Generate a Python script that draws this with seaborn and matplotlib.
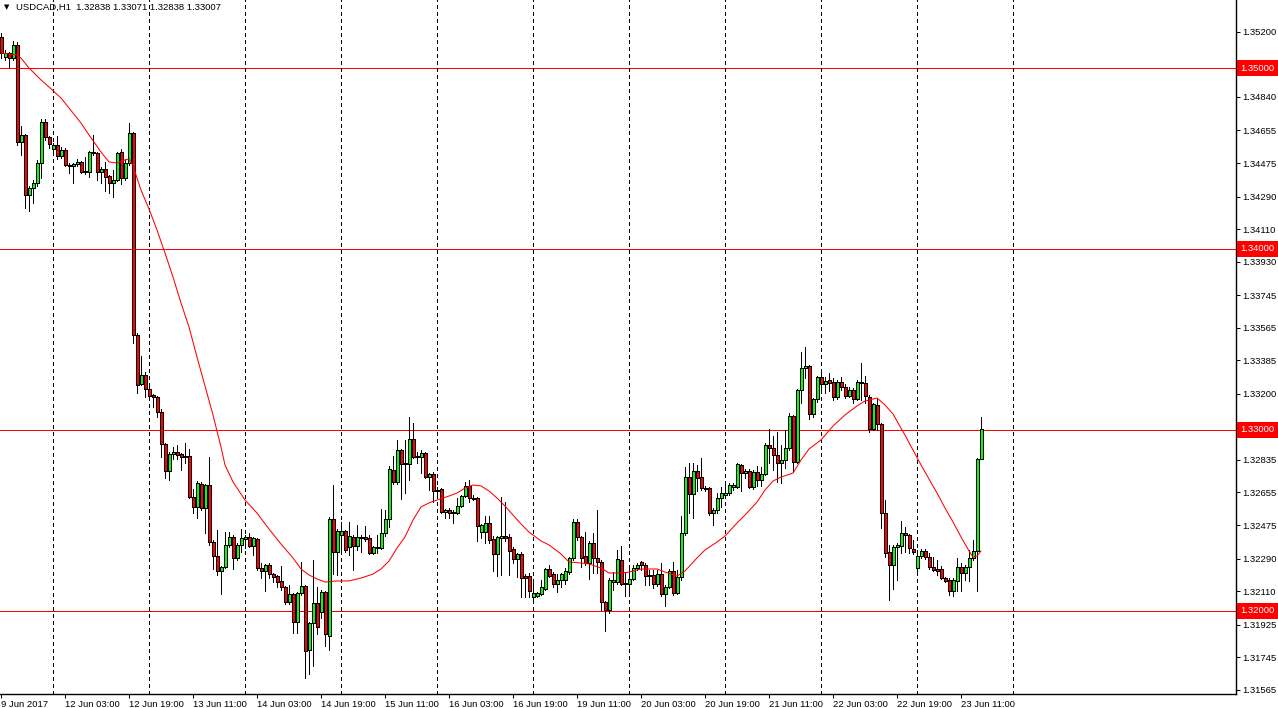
import numpy as np
import pandas as pd
import matplotlib
matplotlib.use("Agg")
import matplotlib.pyplot as plt
import matplotlib.transforms as mtransforms
import seaborn as sns

symbol = "USDCAD,H1"

# trading days shown on the H1 chart (weekend skipped)
trading_days = ["2017-06-09", "2017-06-12", "2017-06-13", "2017-06-14", "2017-06-15",
                "2017-06-16", "2017-06-19", "2017-06-20", "2017-06-21", "2017-06-22",
                "2017-06-23"]
first_bar = "2017-06-09 11:00"
last_bar = "2017-06-23 16:00"

opens = [
    1.35171, 1.35061, 1.35083, 1.35055, 1.35127, 1.34591, 1.34630, 1.34298, 1.34337, 1.34365,
    1.34475, 1.34702, 1.34619, 1.34552, 1.34575, 1.34514, 1.34547, 1.34464, 1.34459, 1.34470,
    1.34481, 1.34425, 1.34425, 1.34536, 1.34530, 1.34425, 1.34442, 1.34403, 1.34365, 1.34381,
    1.34536, 1.34392, 1.34475, 1.34641, 1.33525, 1.33254, 1.33304, 1.33226, 1.33193, 1.33182,
    1.33099, 1.32923, 1.32773, 1.32867, 1.32878, 1.32867, 1.32856, 1.32856, 1.32630, 1.32575,
    1.32702, 1.32569, 1.32696, 1.32381, 1.32304, 1.32221, 1.32243, 1.32365, 1.32409, 1.32293,
    1.32365, 1.32398, 1.32409, 1.32359, 1.32398, 1.32237, 1.32221, 1.32254, 1.32204, 1.32193,
    1.32166, 1.32133, 1.32050, 1.32094, 1.31939, 1.32099, 1.32138, 1.31784, 1.31934, 1.32044,
    1.31994, 1.32105, 1.31862, 1.32508, 1.32326, 1.32420, 1.32442, 1.32354, 1.32409, 1.32359,
    1.32403, 1.32409, 1.32403, 1.32320, 1.32348, 1.32348, 1.32431, 1.32508, 1.32779, 1.32713,
    1.32889, 1.32818, 1.32812, 1.32950, 1.32856, 1.32851, 1.32873, 1.32740, 1.32757, 1.32668,
    1.32674, 1.32547, 1.32558, 1.32541, 1.32541, 1.32580, 1.32635, 1.32691, 1.32624, 1.32624,
    1.32436, 1.32436, 1.32486, 1.32398, 1.32315, 1.32403, 1.32414, 1.32409, 1.32343, 1.32287,
    1.32315, 1.32193, 1.32193, 1.32077, 1.32083, 1.32094, 1.32121, 1.32232, 1.32204, 1.32149,
    1.32171, 1.32171, 1.32215, 1.32293, 1.32492, 1.32409, 1.32304, 1.32265, 1.32376, 1.32293,
    1.32271, 1.32050, 1.32005, 1.32160, 1.32160, 1.32282, 1.32155, 1.32149, 1.32177, 1.32238,
    1.32271, 1.32254, 1.32193, 1.32199, 1.32149, 1.32204, 1.32094, 1.32133, 1.32221, 1.32099,
    1.32188, 1.32431, 1.32740, 1.32646, 1.32773, 1.32740, 1.32679, 1.32679, 1.32541, 1.32558,
    1.32624, 1.32641, 1.32652, 1.32685, 1.32685, 1.32807, 1.32762, 1.32773, 1.32685, 1.32768,
    1.32724, 1.32757, 1.32917, 1.32900, 1.32862, 1.32818, 1.32834, 1.32900, 1.33077, 1.32823,
    1.33221, 1.33342, 1.33354, 1.33088, 1.33171, 1.33293, 1.33254, 1.33276, 1.33265, 1.33182,
    1.33265, 1.33238, 1.33188, 1.33221, 1.33171, 1.33265, 1.33260, 1.33182, 1.33005, 1.33138,
    1.33033, 1.32541, 1.32326, 1.32254, 1.32354, 1.32359, 1.32431, 1.32420, 1.32343, 1.32238,
    1.32304, 1.32332, 1.32298, 1.32243, 1.32232, 1.32232, 1.32182, 1.32171, 1.32110, 1.32166,
    1.32243, 1.32210, 1.32243, 1.32293, 1.32332, 1.32838,
]

highs = [
    1.35193, 1.35099, 1.35088, 1.35149, 1.35144, 1.34680, 1.34635, 1.34348, 1.34381, 1.34492,
    1.34718, 1.34718, 1.34624, 1.34586, 1.34624, 1.34564, 1.34558, 1.34475, 1.34475, 1.34497,
    1.34486, 1.34508, 1.34541, 1.34630, 1.34536, 1.34453, 1.34481, 1.34409, 1.34436, 1.34536,
    1.34552, 1.34497, 1.34696, 1.34646, 1.33536, 1.33409, 1.33320, 1.33238, 1.33199, 1.33188,
    1.33116, 1.32928, 1.32878, 1.32906, 1.32917, 1.32873, 1.32928, 1.32895, 1.32674, 1.32718,
    1.32713, 1.32702, 1.32851, 1.32392, 1.32447, 1.32249, 1.32436, 1.32436, 1.32420, 1.32376,
    1.32453, 1.32420, 1.32431, 1.32409, 1.32403, 1.32265, 1.32260, 1.32265, 1.32210, 1.32199,
    1.32249, 1.32138, 1.32144, 1.32099, 1.32105, 1.32271, 1.32144, 1.31939, 1.32282, 1.32133,
    1.32116, 1.32110, 1.32519, 1.32696, 1.32453, 1.32492, 1.32447, 1.32492, 1.32420, 1.32475,
    1.32420, 1.32470, 1.32420, 1.32359, 1.32420, 1.32563, 1.32558, 1.32801, 1.32856, 1.32945,
    1.32895, 1.32945, 1.33072, 1.33039, 1.32878, 1.32889, 1.32878, 1.32762, 1.32768, 1.32685,
    1.32680, 1.32563, 1.32569, 1.32558, 1.32624, 1.32641, 1.32713, 1.32724, 1.32641, 1.32630,
    1.32481, 1.32525, 1.32525, 1.32414, 1.32414, 1.32630, 1.32602, 1.32425, 1.32354, 1.32320,
    1.32326, 1.32204, 1.32210, 1.32171, 1.32105, 1.32171, 1.32238, 1.32254, 1.32215, 1.32204,
    1.32210, 1.32238, 1.32298, 1.32508, 1.32508, 1.32414, 1.32436, 1.32387, 1.32431, 1.32558,
    1.32282, 1.32055, 1.32182, 1.32215, 1.32337, 1.32359, 1.32215, 1.32238, 1.32254, 1.32265,
    1.32276, 1.32265, 1.32226, 1.32226, 1.32226, 1.32265, 1.32144, 1.32232, 1.32271, 1.32226,
    1.32525, 1.32796, 1.32818, 1.32818, 1.32807, 1.32845, 1.32691, 1.32685, 1.32569, 1.32652,
    1.32685, 1.32696, 1.32707, 1.32707, 1.32818, 1.32812, 1.32785, 1.32785, 1.32779, 1.32801,
    1.32796, 1.32928, 1.33005, 1.32967, 1.32989, 1.32917, 1.33000, 1.33094, 1.33083, 1.33227,
    1.33431, 1.33459, 1.33359, 1.33177, 1.33298, 1.33320, 1.33293, 1.33315, 1.33287, 1.33276,
    1.33293, 1.33254, 1.33238, 1.33232, 1.33276, 1.33370, 1.33298, 1.33193, 1.33149, 1.33177,
    1.33039, 1.32613, 1.32365, 1.32365, 1.32376, 1.32497, 1.32464, 1.32425, 1.32392, 1.32337,
    1.32343, 1.32343, 1.32320, 1.32298, 1.32282, 1.32249, 1.32188, 1.32182, 1.32182, 1.32293,
    1.32265, 1.32254, 1.32337, 1.32392, 1.32845, 1.33071,
]

lows = [
    1.35055, 1.35044, 1.35006, 1.35044, 1.34575, 1.34519, 1.34226, 1.34210, 1.34254, 1.34348,
    1.34392, 1.34602, 1.34558, 1.34541, 1.34497, 1.34503, 1.34459, 1.34420, 1.34365, 1.34459,
    1.34420, 1.34414, 1.34398, 1.34519, 1.34381, 1.34365, 1.34320, 1.34309, 1.34287, 1.34376,
    1.34359, 1.34381, 1.34464, 1.33481, 1.33204, 1.33249, 1.33182, 1.33171, 1.33127, 1.33072,
    1.32851, 1.32735, 1.32724, 1.32840, 1.32840, 1.32779, 1.32818, 1.32624, 1.32541, 1.32514,
    1.32558, 1.32431, 1.32365, 1.32232, 1.32199, 1.32094, 1.32238, 1.32354, 1.32232, 1.32282,
    1.32326, 1.32348, 1.32354, 1.32309, 1.32226, 1.32182, 1.32110, 1.32182, 1.32160, 1.32133,
    1.32116, 1.32039, 1.32039, 1.31878, 1.31878, 1.32088, 1.31630, 1.31652, 1.31696, 1.31873,
    1.31961, 1.31807, 1.31784, 1.32204, 1.32199, 1.32337, 1.32326, 1.32309, 1.32226, 1.32337,
    1.32326, 1.32387, 1.32315, 1.32315, 1.32320, 1.32343, 1.32414, 1.32464, 1.32702, 1.32702,
    1.32619, 1.32652, 1.32724, 1.32845, 1.32818, 1.32762, 1.32735, 1.32668, 1.32602, 1.32641,
    1.32541, 1.32514, 1.32514, 1.32486, 1.32536, 1.32575, 1.32630, 1.32602, 1.32613, 1.32387,
    1.32403, 1.32376, 1.32376, 1.32221, 1.32193, 1.32199, 1.32387, 1.32199, 1.32265, 1.32188,
    1.32077, 1.32077, 1.32077, 1.32061, 1.32077, 1.32088, 1.32116, 1.32188, 1.32133, 1.32105,
    1.32133, 1.32149, 1.32204, 1.32282, 1.32392, 1.32243, 1.32254, 1.32177, 1.32210, 1.32210,
    1.32005, 1.31889, 1.31989, 1.32116, 1.32149, 1.32144, 1.32083, 1.32099, 1.32171, 1.32226,
    1.32226, 1.32144, 1.32144, 1.32127, 1.32138, 1.32083, 1.32028, 1.32127, 1.32088, 1.32094,
    1.32171, 1.32420, 1.32541, 1.32514, 1.32663, 1.32668, 1.32663, 1.32530, 1.32475, 1.32541,
    1.32575, 1.32635, 1.32641, 1.32668, 1.32680, 1.32663, 1.32735, 1.32680, 1.32674, 1.32691,
    1.32691, 1.32751, 1.32818, 1.32779, 1.32713, 1.32707, 1.32790, 1.32889, 1.32768, 1.32818,
    1.33149, 1.33287, 1.33061, 1.33072, 1.33155, 1.33204, 1.33204, 1.33215, 1.33166, 1.33171,
    1.33221, 1.33177, 1.33182, 1.33149, 1.33166, 1.33166, 1.33149, 1.32989, 1.33000, 1.33000,
    1.32458, 1.32298, 1.32061, 1.32121, 1.32171, 1.32320, 1.32326, 1.32320, 1.32315, 1.32215,
    1.32293, 1.32287, 1.32232, 1.32221, 1.32199, 1.32177, 1.32160, 1.32088, 1.32083, 1.32110,
    1.32110, 1.32171, 1.32166, 1.32282, 1.32110, 1.32838,
]

closes = [
    1.35083, 1.35083, 1.35055, 1.35127, 1.34591, 1.34630, 1.34298, 1.34337, 1.34365, 1.34475,
    1.34702, 1.34619, 1.34580, 1.34575, 1.34514, 1.34547, 1.34464, 1.34459, 1.34470, 1.34481,
    1.34425, 1.34431, 1.34536, 1.34530, 1.34425, 1.34442, 1.34398, 1.34365, 1.34381, 1.34530,
    1.34392, 1.34475, 1.34641, 1.33525, 1.33249, 1.33304, 1.33226, 1.33188, 1.33182, 1.33099,
    1.32923, 1.32773, 1.32867, 1.32878, 1.32862, 1.32851, 1.32851, 1.32630, 1.32575, 1.32707,
    1.32569, 1.32696, 1.32381, 1.32304, 1.32221, 1.32243, 1.32365, 1.32409, 1.32293, 1.32365,
    1.32403, 1.32409, 1.32359, 1.32403, 1.32237, 1.32221, 1.32254, 1.32204, 1.32188, 1.32160,
    1.32133, 1.32050, 1.32094, 1.31939, 1.32099, 1.32138, 1.31779, 1.31934, 1.32044, 1.31912,
    1.32105, 1.31873, 1.32508, 1.32326, 1.32442, 1.32442, 1.32337, 1.32414, 1.32359, 1.32409,
    1.32409, 1.32398, 1.32320, 1.32354, 1.32354, 1.32431, 1.32508, 1.32784, 1.32713, 1.32889,
    1.32812, 1.32812, 1.32950, 1.32851, 1.32851, 1.32873, 1.32740, 1.32757, 1.32663, 1.32663,
    1.32547, 1.32558, 1.32541, 1.32547, 1.32580, 1.32635, 1.32691, 1.32624, 1.32619, 1.32470,
    1.32475, 1.32486, 1.32392, 1.32315, 1.32409, 1.32414, 1.32403, 1.32332, 1.32287, 1.32315,
    1.32182, 1.32182, 1.32110, 1.32099, 1.32099, 1.32133, 1.32232, 1.32193, 1.32149, 1.32171,
    1.32204, 1.32221, 1.32293, 1.32492, 1.32409, 1.32293, 1.32265, 1.32376, 1.32293, 1.32271,
    1.32050, 1.32005, 1.32171, 1.32171, 1.32287, 1.32149, 1.32149, 1.32177, 1.32238, 1.32254,
    1.32254, 1.32193, 1.32199, 1.32149, 1.32204, 1.32094, 1.32133, 1.32221, 1.32099, 1.32188,
    1.32431, 1.32740, 1.32646, 1.32773, 1.32735, 1.32679, 1.32674, 1.32541, 1.32558, 1.32624,
    1.32652, 1.32652, 1.32696, 1.32696, 1.32812, 1.32762, 1.32773, 1.32685, 1.32768, 1.32724,
    1.32757, 1.32917, 1.32900, 1.32862, 1.32818, 1.32834, 1.32900, 1.33077, 1.32823, 1.33221,
    1.33342, 1.33354, 1.33088, 1.33171, 1.33293, 1.33254, 1.33271, 1.33260, 1.33182, 1.33265,
    1.33238, 1.33188, 1.33221, 1.33171, 1.33265, 1.33260, 1.33188, 1.33005, 1.33144, 1.33033,
    1.32541, 1.32320, 1.32254, 1.32354, 1.32365, 1.32431, 1.32420, 1.32348, 1.32326, 1.32304,
    1.32332, 1.32298, 1.32243, 1.32226, 1.32221, 1.32182, 1.32166, 1.32110, 1.32171, 1.32243,
    1.32210, 1.32243, 1.32293, 1.32332, 1.32838, 1.33007,
]

# moving average indicator at these bars
ma_bars = [0, 4, 5, 7, 10, 12, 15, 17, 20, 22,
           25, 27, 29, 31, 32, 33, 35, 37, 39, 41,
           43, 45, 47, 49, 51, 53, 55, 56, 58, 61,
           64, 67, 70, 73, 75, 77, 79, 81, 84, 87,
           90, 93, 95, 97, 99, 101, 103, 105, 107, 109,
           112, 114, 116, 118, 120, 122, 124, 126, 128, 130,
           132, 135, 137, 140, 142, 145, 147, 150, 152, 155,
           157, 160, 164, 166, 169, 171, 174, 176, 179, 181,
           184, 186, 189, 191, 193, 195, 198, 200, 202, 205,
           208, 211, 214, 216, 218, 219, 221, 223, 226, 228,
           230, 232, 234, 236, 238, 240, 242, 243, 244, 245]
ma_values = [1.35083, 1.35072, 1.35055, 1.35000, 1.34934, 1.34895, 1.34834, 1.34779, 1.34696, 1.34630,
             1.34536, 1.34481, 1.34475, 1.34492, 1.34497, 1.34459, 1.34326, 1.34221, 1.34105, 1.33978,
             1.33845, 1.33702, 1.33569, 1.33403, 1.33243, 1.33083, 1.32906, 1.32807, 1.32713, 1.32613,
             1.32541, 1.32453, 1.32370, 1.32293, 1.32232, 1.32199, 1.32177, 1.32160, 1.32166, 1.32166,
             1.32182, 1.32204, 1.32232, 1.32276, 1.32348, 1.32409, 1.32503, 1.32575, 1.32597, 1.32613,
             1.32635, 1.32652, 1.32679, 1.32696, 1.32691, 1.32663, 1.32624, 1.32580, 1.32530, 1.32481,
             1.32436, 1.32387, 1.32365, 1.32315, 1.32271, 1.32265, 1.32260, 1.32237, 1.32210, 1.32210,
             1.32215, 1.32232, 1.32232, 1.32215, 1.32193, 1.32221, 1.32293, 1.32337, 1.32381, 1.32414,
             1.32486, 1.32530, 1.32602, 1.32668, 1.32718, 1.32740, 1.32762, 1.32834, 1.32895, 1.32945,
             1.33022, 1.33083, 1.33133, 1.33160, 1.33171, 1.33177, 1.33138, 1.33088, 1.32972, 1.32889,
             1.32807, 1.32729, 1.32652, 1.32569, 1.32492, 1.32409, 1.32332, 1.32298, 1.32304, 1.32332]

levels = [1.35000, 1.34000, 1.33000, 1.32000]

# scale labels that are not hidden behind the price tags
price_ticks = [1.35200, 1.34840, 1.34655, 1.34475, 1.34290, 1.34110, 1.33930,
               1.33745, 1.33565, 1.33385, 1.33200, 1.32835, 1.32655, 1.32475,
               1.32290, 1.32110, 1.31925, 1.31745, 1.31565]

time_labels = ["9 Jun 2017", "12 Jun 03:00", "12 Jun 19:00", "13 Jun 11:00", "14 Jun 03:00",
               "14 Jun 19:00", "15 Jun 11:00", "16 Jun 03:00", "16 Jun 19:00", "19 Jun 11:00",
               "20 Jun 03:00", "20 Jun 19:00", "21 Jun 11:00", "22 Jun 03:00", "22 Jun 19:00",
               "23 Jun 11:00"]
label_every = 16

BULL = "#00FF00"
BEAR = "#FF0000"

# hourly bar times
times = [pd.Timestamp(d) + pd.Timedelta(hours=hr) for d in trading_days for hr in range(24)]
times = [t for t in times if pd.Timestamp(first_bar) <= t <= pd.Timestamp(last_bar)]

o = np.array(opens)
h = np.array(highs)
l = np.array(lows)
c = np.array(closes)
assert len(times) == len(o) == len(h) == len(l) == len(c)
x = np.arange(len(o))
up = c >= o

# day separators at midnight bars, plus the next one to the right
separators = [i for i, t in enumerate(times) if t.hour == 0]
separators.append(separators[-1] + 24)

sns.set_style("white")
plt.rcParams["font.family"] = ["Liberation Sans", "DejaVu Sans"]

fig = plt.figure(figsize=(12.78, 7.08), dpi=100)
ax = fig.add_axes([0, 14 / 708, 1236 / 1278, 694 / 708])

for lvl in levels:
    ax.axhline(lvl, color=BEAR, lw=0.72, zorder=1, antialiased=False)
for s in separators:
    ax.axvline(s, color="black", lw=0.72, dashes=(3, 3), zorder=1, antialiased=False)

# candles: wicks then bodies
ax.vlines(x, l, h, color="black", lw=0.72, zorder=2, antialiased=False)
ax.bar(x, np.abs(c - o), bottom=np.minimum(o, c), width=0.75,
       color=np.where(up, BULL, BEAR), edgecolor="black", linewidth=0.6,
       zorder=3, antialiased=False)

sns.lineplot(x=ma_bars, y=ma_values, ax=ax, color=BEAR, linewidth=0.75,
             zorder=4, antialiased=True)

ax.set_xlim(-0.25, 308.75)
ax.set_ylim(1.315414, 1.353757)
ax.set_xlabel("")
ax.set_ylabel("")

for side in ["top", "left"]:
    ax.spines[side].set_visible(False)
for side in ["right", "bottom"]:
    ax.spines[side].set_color("black")
    ax.spines[side].set_linewidth(1.0)

ax.yaxis.tick_right()
ax.set_yticks(price_ticks)
ax.set_yticklabels([f"{v:.5f}" for v in price_ticks])
ax.tick_params(axis="y", right=True, left=False, length=3, width=0.75, pad=1.5,
               labelsize=6.8, colors="black", direction="out")

ax.set_xticks(x[::label_every][:len(time_labels)])
ax.set_xticklabels(time_labels, ha="left")
ax.tick_params(axis="x", bottom=True, length=3, width=0.75, pad=1.5,
               labelsize=6.8, colors="black", direction="out")

# red price tags on the right scale
tag_trans = (mtransforms.blended_transform_factory(ax.transAxes, ax.transData)
             + mtransforms.ScaledTranslation(0.045, 0, fig.dpi_scale_trans))
for lvl in levels:
    ax.text(1.0, lvl, f"{lvl:.5f}", transform=tag_trans, ha="left", va="center",
            color="white", fontsize=6.8, clip_on=False, zorder=6,
            bbox=dict(boxstyle="square,pad=0.35", fc=BEAR, ec="none"))

# chart header with last bar OHLC
ax.text(4 / 1236, 1 - 7 / 694, "\u25bc", transform=ax.transAxes, ha="left", va="center",
        fontsize=5, color="black", family=["DejaVu Sans"])
ax.text(16 / 1236, 1 - 7 / 694,
        f"{symbol}  {o[-1]:.5f} {h[-1]:.5f} {l[-1]:.5f} {c[-1]:.5f}",
        transform=ax.transAxes, ha="left", va="center", fontsize=6.8, color="black")

fig.savefig("out.png", dpi=100, facecolor="white")
